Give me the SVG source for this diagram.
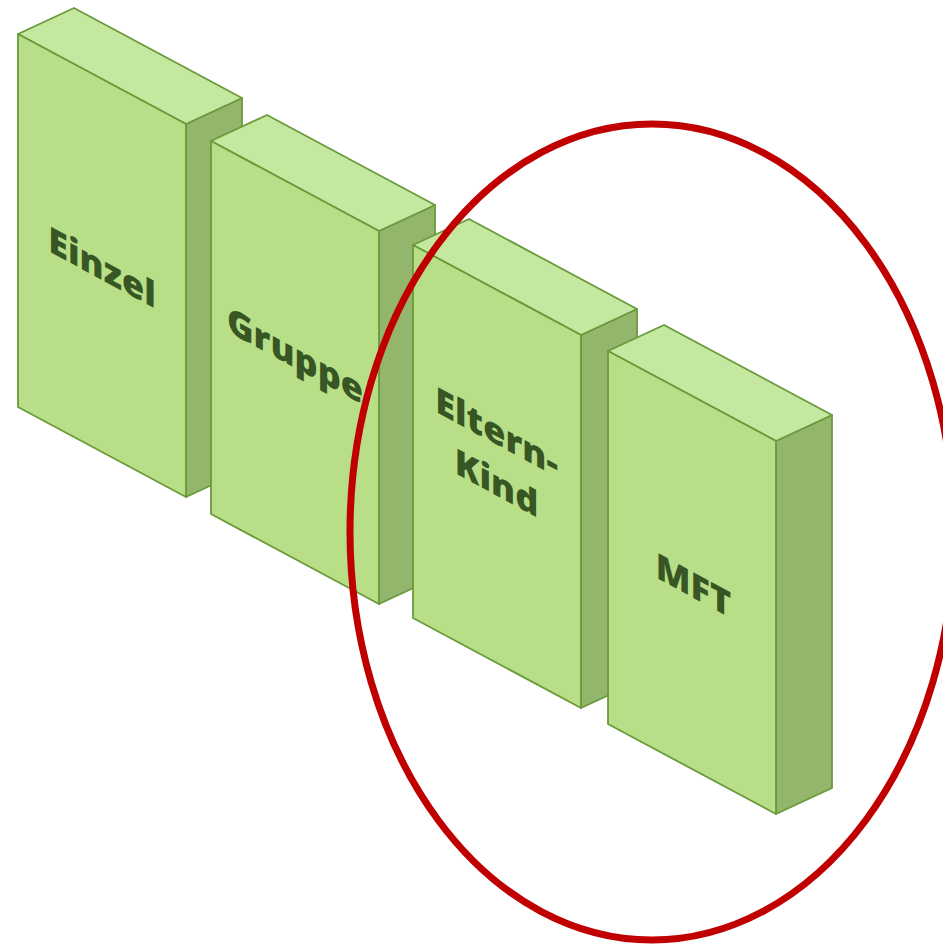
<svg xmlns="http://www.w3.org/2000/svg" width="943" height="947" viewBox="0 0 943 947">
  <style>
    .front { fill: #B8DF88; stroke: #6A9A3A; stroke-width: 1.8; stroke-linejoin: round; }
    .top { fill: #C5E8A1; stroke: #6A9A3A; stroke-width: 1.8; stroke-linejoin: round; }
    .side { fill: #93B56C; stroke: #6A9A3A; stroke-width: 1.8; stroke-linejoin: round; }
    .label { font-family: "Open Sans", "Liberation Sans", sans-serif; font-weight: 800; font-size: 36px; fill: #375623; text-anchor: middle; }
    .ring { fill: none; stroke: #C00000; stroke-width: 7; }
  </style>
  <defs>
    <!-- isometric block, origin at the top-left corner of the front face -->
    <g id="block">
      <polygon class="side" points="168,90 224,64 224,437 168,463"/>
      <polygon class="top" points="0,0 56,-26 224,64 168,90"/>
      <polygon class="front" points="0,0 168,90 168,463 0,373"/>
    </g>
  </defs>

  <g id="einzel">
    <use href="#block" transform="translate(18,34)"/>
    <text class="label" transform="translate(102,280) skewY(28.4)" x="0" y="0">Einzel</text>
  </g>

  <g id="gruppe">
    <use href="#block" transform="translate(211,141)"/>
    <text class="label" transform="translate(295,368) skewY(28.4)" x="0" y="0">Gruppe</text>
  </g>

  <g id="eltern-kind">
    <use href="#block" transform="translate(413,245)"/>
    <text class="label" transform="translate(496.5,444.6) skewY(28.4)" x="0" y="0">Eltern-</text>
    <text class="label" transform="translate(496.5,444.6) skewY(28.4)" x="0" y="51">Kind</text>
  </g>

  <g id="mft">
    <use href="#block" transform="translate(608,351)"/>
    <text class="label" transform="translate(693.5,598) skewY(28.4)" x="0" y="0">MFT</text>
  </g>

  <g id="highlight">
    <ellipse class="ring" cx="652" cy="532" rx="302" ry="408"/>
  </g>
</svg>
